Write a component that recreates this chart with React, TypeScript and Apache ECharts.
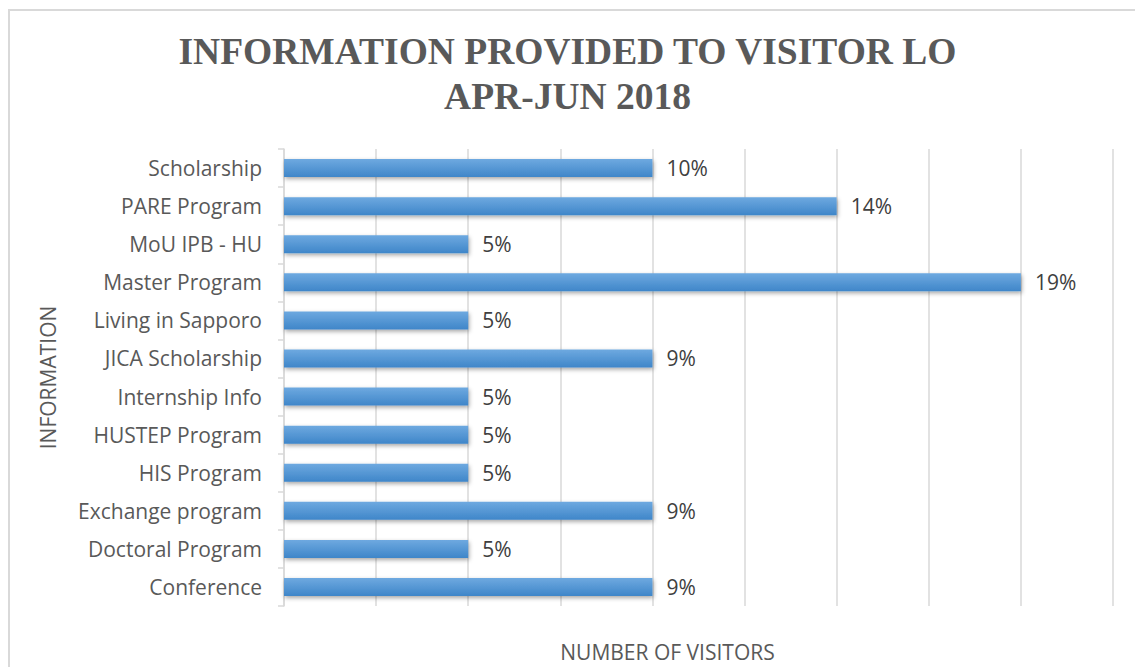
import React, { useEffect, useRef } from "react";
import * as echarts from "echarts";

const categories = [
  "Conference",
  "Doctoral Program",
  "Exchange program",
  "HIS Program",
  "HUSTEP Program",
  "Internship Info",
  "JICA Scholarship",
  "Living in Sapporo",
  "Master Program",
  "MoU IPB - HU",
  "PARE Program",
  "Scholarship",
];
const visitors = [4, 2, 4, 2, 2, 2, 4, 2, 8, 2, 6, 4];
const percentLabels = ["9%", "5%", "9%", "5%", "5%", "5%", "9%", "5%", "19%", "5%", "14%", "10%"];

const labelFont = "Open Sans";

export default function App() {
  const ref = useRef<HTMLDivElement>(null);
  useEffect(() => {
    document.body.style.margin = "0";
    const chart = echarts.init(ref.current!, null, { renderer: "svg" });
    chart.setOption({
      animation: false,
      backgroundColor: "#ffffff",
      title: {
        text: "INFORMATION PROVIDED TO VISITOR LO\nAPR-JUN 2018",
        left: "center",
        top: 24,
        padding: [5, 5, 5, 35],
        textStyle: {
          fontFamily: "Liberation Serif",
          fontWeight: "bold",
          fontSize: 37.5,
          lineHeight: 45,
          color: "#595959",
        },
      },
      graphic: [
        {
          type: "rect",
          shape: { x: 9, y: 10, width: 1140, height: 700 },
          style: { fill: "none", stroke: "#d9d9d9", lineWidth: 2 },
          silent: true,
        },
      ],
      grid: { left: 284, right: 22, top: 149, bottom: 53 },
      xAxis: {
        type: "value",
        min: 0,
        max: 9,
        interval: 1,
        name: "NUMBER OF VISITORS",
        nameLocation: "middle",
        nameGap: 35,
        nameTextStyle: {
          fontFamily: labelFont,
          fontSize: 21,
          color: "#595959",
          padding: [0, 62, 0, 0],
        },
        axisLabel: { show: false },
        axisLine: { show: false },
        axisTick: { show: false },
        splitLine: { lineStyle: { color: "#d9d9d9", width: 1.5 } },
      },
      yAxis: {
        type: "category",
        data: categories,
        name: "INFORMATION",
        nameLocation: "middle",
        nameGap: 226,
        nameRotate: 90,
        nameTextStyle: { fontFamily: labelFont, fontSize: 21, color: "#595959" },
        axisLine: { show: true, lineStyle: { color: "#d9d9d9", width: 1.5 } },
        axisTick: { show: true, length: 6, lineStyle: { color: "#d9d9d9", width: 1.5 } },
        axisLabel: {
          fontFamily: labelFont,
          fontSize: 21,
          color: "#595959",
          margin: 22,
        },
      },
      series: [
        {
          type: "bar",
          data: visitors,
          barWidth: 18,
          itemStyle: {
            color: new echarts.graphic.LinearGradient(0, 0, 0, 1, [
              { offset: 0, color: "#6ea9e0" },
              { offset: 1, color: "#3f86c9" },
            ]),
            shadowColor: "rgba(0,0,0,0.35)",
            shadowBlur: 4,
            shadowOffsetY: 2,
            shadowOffsetX: 1,
          },
          label: {
            show: true,
            position: "right",
            distance: 14,
            fontFamily: labelFont,
            fontSize: 21,
            color: "#404040",
            formatter: (p: any) => percentLabels[p.dataIndex],
          },
        },
      ],
    });
    return () => chart.dispose();
  }, []);
  return <div ref={ref} style={{ width: 1135, height: 667 }} />;
}
